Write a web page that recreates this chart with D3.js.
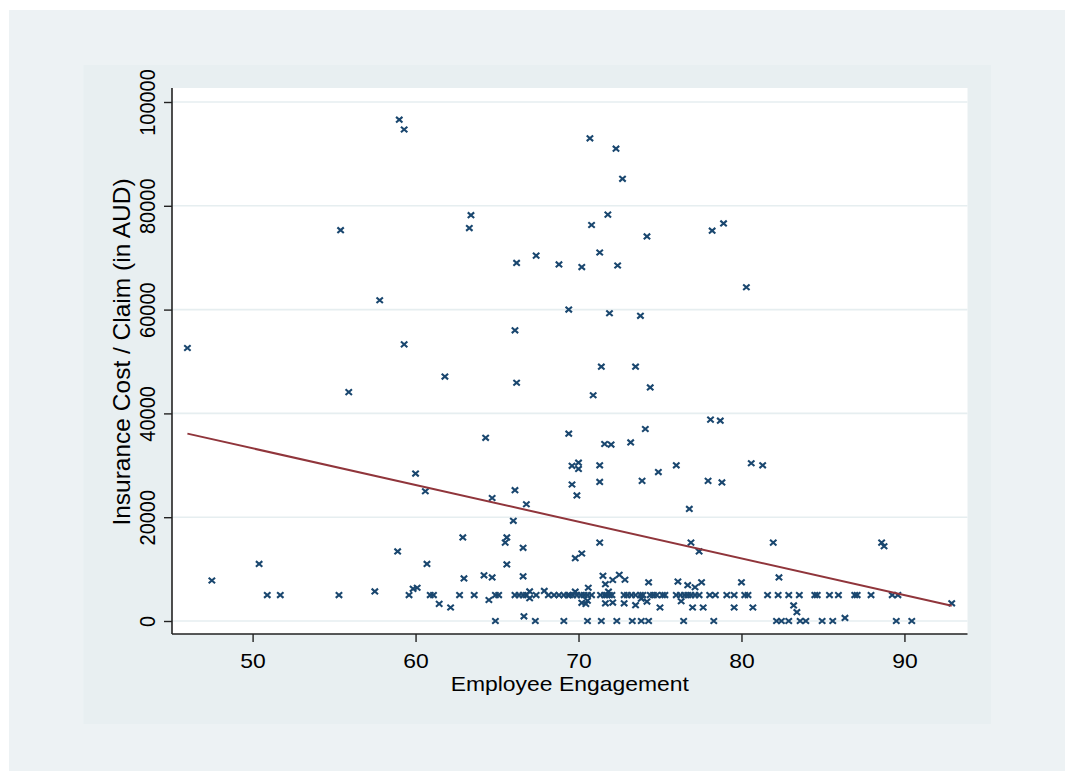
<!DOCTYPE html>
<html>
<head>
<meta charset="utf-8">
<script src="https://cdn.jsdelivr.net/npm/d3@7"></script>
<style>
  body { margin: 0; background: #fff; }
  svg { display: block; }
  text { font-family: "Liberation Sans", Arial, Helvetica, sans-serif; fill: #000; }
</style>
</head>
<body>
<svg id="chart"></svg>
<script>
// scatter points: engagement score and claim cost
const engagement = [
  46.0, 55.4, 55.9, 57.8, 59.0, 59.3, 59.3, 60.0, 60.6, 61.8, 63.4, 63.3, 64.3, 64.7,
  66.1, 66.2, 66.2, 66.1, 66.8, 67.4, 68.8, 69.4, 69.4, 69.6, 70.0, 70.0, 69.6, 69.9,
  70.2, 70.7, 70.8, 70.9, 71.3, 71.4, 71.3, 71.3, 71.6, 72.0, 71.8, 71.9, 72.3, 72.4,
  72.7, 73.2, 73.5, 73.8, 73.9, 74.1, 74.2, 74.4, 74.9, 76.0, 76.8, 77.95, 78.2, 78.9,
  78.1, 78.7, 78.8, 80.3, 80.6, 81.3,
  50.4, 58.9, 60.7, 62.9, 65.6, 65.5, 66.0, 66.6, 65.6, 69.8, 70.2, 71.3, 76.9, 77.4,
  81.95, 88.6, 88.75, 62.97, 64.2, 64.7, 66.6, 71.5, 72.5, 82.3, 47.5,
  57.5, 59.85, 60.1, 67.0, 67.9, 69.8, 70.6, 71.65, 72.1, 72.85, 74.3, 76.1, 76.7, 77.15,
  77.55, 80.0, 71.84,
  50.9, 51.7, 55.3, 59.6, 60.9, 61.1, 62.7, 63.6, 64.9, 65.1, 66.1, 66.35, 66.6, 66.8,
  67.4, 68.15, 68.5, 68.8, 69.1, 69.35, 69.45, 69.65, 69.9, 70.15, 70.35, 70.55, 70.8,
  71.35, 71.6, 71.75, 71.9, 72.05, 72.8, 73.0, 73.25, 73.5, 73.8, 73.95, 74.4, 74.6,
  74.8, 75.15, 75.3, 76.0, 76.25, 76.5, 76.7, 76.9, 77.15, 77.4, 78.05, 78.4, 79.1,
  79.55, 80.2, 80.4, 81.6, 82.25, 82.9, 83.55, 84.5, 84.65, 85.4, 85.95, 86.95, 87.1,
  87.95, 89.25, 89.6,
  64.5, 67.0, 73.85, 70.55,
  61.45, 70.2, 70.45, 71.65, 72.1, 72.8, 73.5, 74.2, 76.3, 83.2, 92.9,
  62.15, 75.0, 77.0, 77.65, 79.55, 80.7, 83.4, 66.65, 86.35,
  64.9, 67.35, 69.1, 70.55, 71.4, 72.35, 73.3, 73.85, 74.3, 76.45, 78.3, 82.15, 82.45,
  82.9, 83.6, 83.95, 84.95, 85.6, 89.5, 90.45
];
const insuranceCost = [
  52600, 75300, 44100, 61800, 96600, 94700, 53300, 28400, 25000, 47100, 78200, 75700, 35300, 23700,
  56000, 69000, 45900, 25200, 22500, 70400, 68700, 60000, 36100, 29900, 30500, 29300, 26300, 24200,
  68200, 93000, 76300, 43500, 71000, 49000, 30000, 26800, 34100, 34000, 78300, 59300, 91000, 68500,
  85200, 34400, 49000, 58800, 27000, 37000, 74100, 45000, 28700, 30000, 21600, 27000, 75200, 76600,
  38800, 38600, 26700, 64300, 30400, 30000,
  11000, 13400, 11000, 16100, 16100, 15100, 19300, 14100, 10900, 12100, 13000, 15100, 15100, 13400,
  15100, 15100, 14400, 8200, 8800, 8400, 8600, 8700, 8900, 8400, 7800,
  5700, 6200, 6400, 5700, 5800, 5650, 6400, 7100, 7900, 7950, 7450, 7600, 6900, 6500,
  7450, 7450, 5650,
  5000, 5000, 5000, 5000, 5000, 5000, 5000, 5000, 5000, 5000, 5000, 5000, 5000, 5000,
  5000, 5000, 5000, 5000, 5000, 5000, 5000, 5000, 5000, 5000, 5000, 5000, 5000,
  5000, 5000, 5000, 5000, 5000, 5000, 5000, 5000, 5000, 5000, 5000, 5000, 5000,
  5000, 5000, 5000, 5000, 5000, 5000, 5000, 5000, 5000, 5000, 5000, 5000, 5000,
  5000, 5000, 5000, 5000, 5000, 5000, 5000, 5000, 5000, 5000, 5000, 5000, 5000,
  5000, 5000, 5000,
  4050, 4400, 4300, 3900,
  3300, 3500, 3300, 3400, 3550, 3400, 3050, 3750, 3800, 3000, 3400,
  2600, 2600, 2600, 2600, 2600, 2600, 1700, 900, 600,
  0, 0, 0, 0, 0, 0, 0, 0, 0, 0, 0, 0, 0,
  0, 0, 0, 0, 0, 0, 0
];
// fitted line end points
const fitX = [46.0, 92.9];
const fitY = [36100, 2950];

const xTicks = [50, 60, 70, 80, 90];
const yTicks = [0, 20000, 40000, 60000, 80000, 100000];
const xTitle = "Employee Engagement";
const yTitle = "Insurance Cost / Claim (in AUD)";

const width = 1065, height = 771;
const plot = { left: 172, right: 967.5, top: 88, bottom: 634 };
const stretch = 1.146; // the source picture is a bit wider than tall

const svg = d3.select('#chart')
  .attr('width', width)
  .attr('height', height);

svg.append('rect')
  .attr('x', 9).attr('y', 10)
  .attr('width', width - 9).attr('height', height - 10)
  .attr('fill', '#edf2f4');

svg.append('rect')
  .attr('x', 83.5).attr('y', 65)
  .attr('width', 991 - 83.5).attr('height', 724 - 65)
  .attr('fill', '#e8eff1');

svg.append('rect')
  .attr('x', plot.left).attr('y', plot.top)
  .attr('width', plot.right - plot.left).attr('height', plot.bottom - plot.top)
  .attr('fill', '#fff');

let x = d3.scaleLinear().domain([45.054, 93.87]).range([plot.left, plot.right]);
let y = d3.scaleLinear().domain([-2505, 102697]).range([plot.bottom, plot.top]);

// grid
svg.append('g')
  .selectAll('line')
  .data(yTicks)
  .join('line')
  .attr('x1', plot.left).attr('x2', plot.right)
  .attr('y1', d => y(d)).attr('y2', d => y(d))
  .attr('stroke', '#e6eef0')
  .attr('stroke-width', 1.6);

// y axis
let yAxis = svg.append('g')
  .attr('transform', 'translate(' + plot.left + ',0)')
  .call(d3.axisLeft(y).tickValues(yTicks).tickSize(8).tickSizeOuter(0).tickFormat(d3.format('d')));
yAxis.select('.domain').remove();
yAxis.selectAll('.tick line').attr('stroke', '#222').attr('stroke-width', 1.4);
yAxis.selectAll('.tick text').remove();
yAxis.selectAll('.tick')
  .append('g')
  .attr('transform', 'translate(-17,0) scale(' + stretch + ',1) rotate(-90)')
  .append('text')
  .attr('text-anchor', 'middle')
  .attr('font-size', 20)
  .text(d => d3.format('d')(d));

// x axis
let xAxis = svg.append('g')
  .attr('transform', 'translate(0,' + plot.bottom + ')')
  .call(d3.axisBottom(x).tickValues(xTicks).tickSize(8).tickSizeOuter(0));
xAxis.select('.domain').remove();
xAxis.selectAll('.tick line').attr('stroke', '#222').attr('stroke-width', 1.4);
xAxis.selectAll('.tick text').remove();
xAxis.selectAll('.tick')
  .append('g')
  .attr('transform', 'translate(0,34) scale(' + stretch + ',1)')
  .append('text')
  .attr('text-anchor', 'middle')
  .attr('font-size', 20)
  .text(d => d);

// axis lines
svg.append('line')
  .attr('x1', plot.left).attr('x2', plot.left)
  .attr('y1', plot.top).attr('y2', plot.bottom)
  .attr('stroke', '#222').attr('stroke-width', 1.6);
svg.append('line')
  .attr('x1', plot.left).attr('x2', plot.right)
  .attr('y1', plot.bottom).attr('y2', plot.bottom)
  .attr('stroke', '#222').attr('stroke-width', 1.6);

// titles
svg.append('g')
  .attr('transform', 'translate(' + ((plot.left + plot.right) / 2) + ',691) scale(' + stretch + ',1)')
  .append('text')
  .attr('text-anchor', 'middle')
  .attr('font-size', 20)
  .text(xTitle);

svg.append('g')
  .attr('transform', 'translate(130,352) rotate(-90)')
  .append('text')
  .attr('text-anchor', 'middle')
  .attr('font-size', 24.5)
  .text(yTitle);

// points
let points = engagement.map((e, i) => [e, insuranceCost[i]]);
svg.append('g')
  .selectAll('path')
  .data(points)
  .join('path')
  .attr('transform', d => 'translate(' + x(d[0]) + ',' + y(d[1]) + ')')
  .attr('d', 'M-3.2,-2.8L3.2,2.8M-3.2,2.8L3.2,-2.8')
  .attr('stroke', '#1a476f')
  .attr('stroke-width', 2.1)
  .attr('fill', 'none');

// fitted values
let line = d3.line()
  .x(d => x(d[0]))
  .y(d => y(d[1]));
svg.append('path')
  .datum(fitX.map((v, i) => [v, fitY[i]]))
  .attr('fill', 'none')
  .attr('stroke', '#90353b')
  .attr('stroke-width', 2)
  .attr('d', line);
</script>
</body>
</html>
